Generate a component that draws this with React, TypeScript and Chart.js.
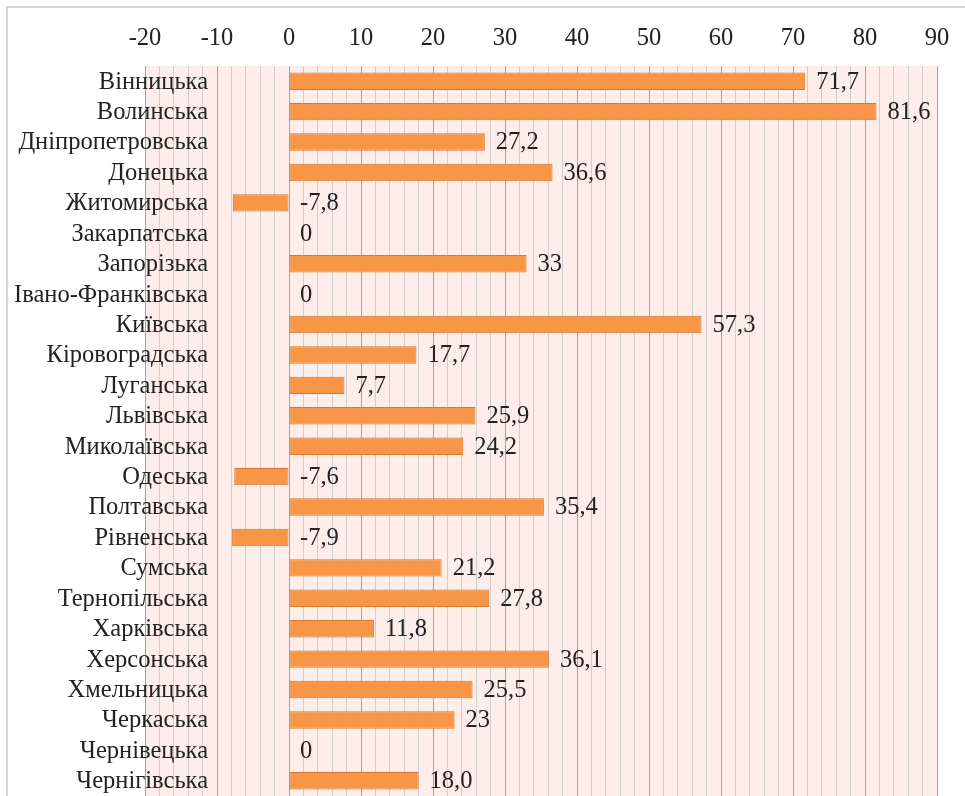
import React, { useEffect, useRef } from "react";
import { Chart, registerables } from "chart.js";

Chart.register(...registerables);

const regions = [
  "Вінницька",
  "Волинська",
  "Дніпропетровська",
  "Донецька",
  "Житомирська",
  "Закарпатська",
  "Запорізька",
  "Івано-Франківська",
  "Київська",
  "Кіровоградська",
  "Луганська",
  "Львівська",
  "Миколаївська",
  "Одеська",
  "Полтавська",
  "Рівненська",
  "Сумська",
  "Тернопільська",
  "Харківська",
  "Херсонська",
  "Хмельницька",
  "Черкаська",
  "Чернівецька",
  "Чернігівська",
];

const values = [
  71.7, 81.6, 27.2, 36.6, -7.8, 0, 33, 0, 57.3, 17.7, 7.7, 25.9, 24.2, -7.6,
  35.4, -7.9, 21.2, 27.8, 11.8, 36.1, 25.5, 23, 0, 18.0,
];

const valueLabels = [
  "71,7", "81,6", "27,2", "36,6", "-7,8", "0", "33", "0", "57,3", "17,7",
  "7,7", "25,9", "24,2", "-7,6", "35,4", "-7,9", "21,2", "27,8", "11,8",
  "36,1", "25,5", "23", "0", "18,0",
];

const axisMin = -20;
const axisMax = 90;
const minorStep = 2;
const majorStep = 10;

const FONT = "'Liberation Serif', 'Times New Roman', serif";
const TEXT = "#222222";
const FSIZE = 24.5;

export default function App() {
  const ref = useRef<HTMLCanvasElement | null>(null);

  useEffect(() => {
    if (!ref.current) return;

    const framePlugin = {
      id: "frame",
      beforeDraw(chart: any) {
        const { ctx, chartArea } = chart;
        ctx.save();
        ctx.fillStyle = "#FDEEEA";
        ctx.fillRect(
          chartArea.left,
          chartArea.top,
          chartArea.right - chartArea.left,
          chartArea.bottom - chartArea.top
        );
        ctx.strokeStyle = "#D4D4D4";
        ctx.lineWidth = 2;
        ctx.beginPath();
        ctx.moveTo(7, chart.height);
        ctx.lineTo(7, 7);
        ctx.lineTo(chart.width, 7);
        ctx.stroke();
        ctx.restore();
      },
    };

    const labelPlugin = {
      id: "valueLabels",
      afterDatasetsDraw(chart: any) {
        const { ctx } = chart;
        const meta = chart.getDatasetMeta(0);
        const xs = chart.scales.x;
        const ys = chart.scales.y;
        ctx.save();
        ctx.font = `${FSIZE}px ${FONT}`;
        ctx.fillStyle = TEXT;
        ctx.textBaseline = "middle";
        // category labels, drawn over the plot's left edge like the original
        ctx.textAlign = "right";
        regions.forEach((name, i) => {
          ctx.fillText(name, chart.chartArea.left + 63, ys.getPixelForValue(i) + 1);
        });
        // value labels
        ctx.textAlign = "left";
        meta.data.forEach((bar: any, i: number) => {
          const v = values[i];
          const x = xs.getPixelForValue(Math.max(v, 0)) + 11;
          ctx.fillText(valueLabels[i], x, bar.y + 1);
        });
        ctx.restore();
      },
    };

    const chart = new Chart(ref.current, {
      type: "bar",
      data: {
        labels: regions,
        datasets: [
          {
            data: values,
            backgroundColor: "#F79646",
            borderColor: "#D9782F",
            borderWidth: (c: any) => (values[c.dataIndex] === 0 ? 0 : 1),
            borderSkipped: false,
            barPercentage: 0.57,
            categoryPercentage: 1,
          },
        ],
      },
      options: {
        indexAxis: "y",
        animation: false,
        responsive: false,
        maintainAspectRatio: false,
        layout: { padding: { top: 0, left: 0, right: 28, bottom: 0 } },
        plugins: {
          legend: { display: false },
          tooltip: { enabled: false },
        },
        scales: {
          x: {
            position: "top",
            min: axisMin,
            max: axisMax,
            afterFit: (s: any) => {
              s.height = 66;
            },
            ticks: {
              stepSize: minorStep,
              autoSkip: false,
              maxRotation: 0,
              padding: 13,
              font: { family: FONT, size: FSIZE },
              color: TEXT,
              callback: (v: any) =>
                Number(v) % majorStep === 0 ? String(v) : "",
            },
            grid: {
              drawTicks: false,
              color: (c: any) =>
                c.tick && Math.round(c.tick.value) % majorStep === 0
                  ? "#A3A3A3"
                  : "#CFCFCF",
              lineWidth: 1,
            },
            border: { display: false },
          },
          y: {
            type: "category",
            afterFit: (s: any) => {
              s.width = 145;
            },
            ticks: { display: false },
            grid: { display: false, drawTicks: false },
            border: { display: false },
          },
        },
      },
      plugins: [framePlugin, labelPlugin],
    } as any);

    return () => chart.destroy();
  }, []);

  return (
    <div style={{ position: "fixed", left: 0, top: 0, width: 965, height: 796, background: "#fff" }}>
      <canvas ref={ref} width={965} height={796} style={{ display: "block" }} />
    </div>
  );
}
